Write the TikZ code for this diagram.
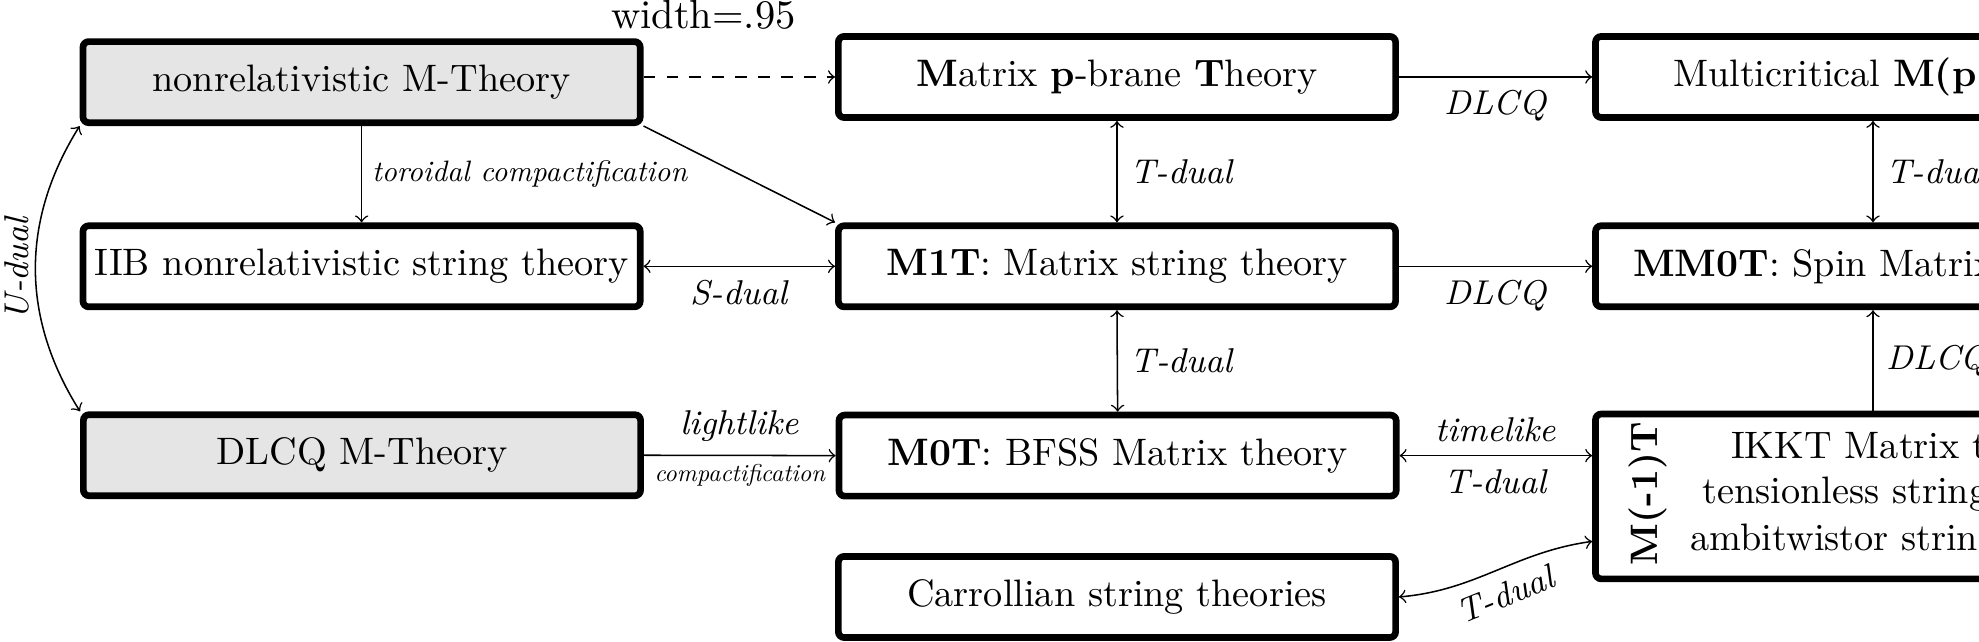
\documentclass[tikz,border=0pt]{standalone}
\usetikzlibrary{calc}
\begin{document}
\begin{tikzpicture}[x=0.33pt,y=-0.33pt,
  box/.style={draw, line width=1.75pt, rounded corners=1.5pt, minimum width=145.7pt, minimum height=21.2pt, inner sep=0pt},
  grey/.style={fill=gray!20},
  arr/.style={->, line width=0.4pt},
  darr/.style={<->, line width=0.4pt},
  lab/.style={font=\small\itshape},
  txt/.style={anchor=base west, inner sep=0pt},
]
\useasboundingbox (0,0) rectangle (1568,508.67);
\clip (0,0) rectangle (1568,508.67);

% stray text
\node[txt, font=\fontsize{10.6}{12}\selectfont] (w) at (483.5,22.5) {width=.95};

% left column
\node[box,grey] (A) at (286.5,65.1) {nonrelativistic M-Theory};
\node[box] (IIB) at (286.5,211) {IIB nonrelativistic string theory};
\node[box,grey] (DL) at (286.8,360.7) {DLCQ M-Theory};

% middle column
\node[box] (P) at (885,61) {\textbf{M}atrix \textbf{p}-brane \textbf{T}heory};
\node[box] (M1) at (885,211) {\textbf{M1T}: Matrix string theory};
\node[box] (M0) at (885.5,361) {\textbf{M0T}: BFSS Matrix theory};
\node[box] (Car) at (885,473) {Carrollian string theories};

% right column (cut off by the picture edge)
\node[box, minimum width=200pt, anchor=west] (MC) at (1261.5,61) {};
\node[txt] (MCt) at (1325,68.8) {Multicritical \textbf{M(p}};
\node[box, minimum width=200pt, anchor=west] (MM) at (1261.5,211) {};
\node[txt] (MMt) at (1293.3,218.8) {\textbf{MM0T}: Spin Matrix};
\node[box, minimum width=200pt, minimum height=43.1pt, anchor=north west] (Mm1) at (1261.5,325.4) {};
\node[rotate=90, font=\bfseries] (Mlab) at (1306,391) {M(-1)T};
\node[txt] (I1) at (1371,363) {IKKT Matrix t};
\node[txt] (I2) at (1348.4,398.8) {tensionless string};
\node[txt] (I3) at (1339,435.8) {ambitwistor strin};
\coordinate (rc) at (1484,0);

% connectors
\draw[arr,dashed] (A.east |- P.west) -- (P.west);
\draw[arr] (P.east) -- node[lab,below]{DLCQ} (P.east -| MC.west);
\draw[arr] (A.south) -- node[right,font=\itshape,scale=0.772]{toroidal compactification} (IIB.north);
\draw[arr] (A.south east) -- (M1.north west);
\draw[darr] (IIB.east) -- node[lab,below]{S-dual} (M1.west);
\draw[darr] (P.south) -- node[lab,right]{T-dual} (M1.north);
\draw[arr] (M1.east) -- node[lab,below]{DLCQ} (M1.east -| MM.west);
\draw[darr] (M1.south) -- node[lab,right]{T-dual} (M0.north);
\draw[arr] (DL.east) -- node[lab,above]{lightlike}
  node[below,font=\itshape,scale=0.637]{compactification} (M0.west);
\draw[darr] (M0.east) -- node[lab,above]{timelike} node[lab,below]{T-dual} (M0.east -| Mm1.west);
\draw[darr] (Car.east) to[out=5,in=188] node[lab,below,sloped]{T-dual} ([yshift=-11.75pt]Mm1.west);
\draw[darr] (MC.south -| rc) -- node[lab,right]{T-dual} (MM.north -| rc);
\draw[arr] (Mm1.north -| rc) -- node[lab,right]{DLCQ} (MM.south -| rc);
\draw[darr] (A.south west) to[bend right=32] node[pos=0.5, rotate=90, anchor=south, inner sep=1.5pt, lab]{U-dual} (DL.north west);
\end{tikzpicture}
\end{document}
